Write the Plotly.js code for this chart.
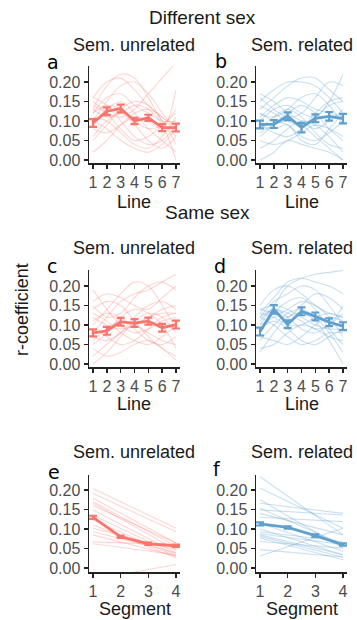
<!DOCTYPE html>
<html>
<head>
<meta charset="utf-8">
<script src="https://cdn.plot.ly/plotly-3.0.1.min.js"></script>
<style>html,body{margin:0;padding:0;background:#fff;}#chart{width:357px;height:620px;}</style>
</head>
<body>
<div id="chart"></div>
<script>
// ---------- data ----------
const lineX = [1, 2, 3, 4, 5, 6, 7];
const segX = [1, 2, 3, 4];
const segEnds = [1, 4];

// Panel a: different sex, semantically unrelated (mean +/- se)
const meanA = [0.095, 0.125, 0.132, 0.100, 0.108, 0.083, 0.083];
const seA   = [0.010, 0.010, 0.010, 0.008, 0.008, 0.009, 0.010];
const indivA = [
  [0.14,0.12,0.11,0.13,0.17,0.21,0.25],
  [0.13,0.19,0.22,0.21,0.16,0.10,0.06],
  [0.16,0.20,0.21,0.18,0.14,0.11,0.09],
  [0.10,0.15,0.19,0.20,0.17,0.12,0.08],
  [0.12,0.14,0.13,0.10,0.08,0.09,0.13],
  [0.05,0.09,0.13,0.15,0.14,0.10,0.04],
  [0.02,0.05,0.09,0.12,0.13,0.11,0.07],
  [0.15,0.12,0.08,0.05,0.06,0.09,0.12],
  [0.09,0.13,0.15,0.12,0.08,0.05,0.02],
  [0.13,0.11,0.12,0.14,0.13,0.09,0.00],
  [0.11,0.10,0.07,0.04,0.03,0.06,0.11],
  [0.08,0.07,0.09,0.11,0.10,0.08,0.18],
  [0.16,0.14,0.10,0.06,0.04,0.05,0.09],
  [0.06,0.10,0.12,0.09,0.05,0.03,0.06],
  [0.12,0.16,0.17,0.14,0.12,0.10,0.10],
  [0.10,0.08,0.05,0.03,0.02,0.04,0.08]
];

// Panel b: different sex, semantically related
const meanB = [0.091, 0.092, 0.112, 0.083, 0.107, 0.112, 0.106];
const seB   = [0.010, 0.010, 0.010, 0.012, 0.010, 0.011, 0.012];
const indivB = [
  [0.17,0.15,0.12,0.10,0.08,0.10,0.13],
  [0.15,0.18,0.20,0.20,0.19,0.16,0.12],
  [0.13,0.16,0.19,0.21,0.21,0.18,0.15],
  [0.10,0.13,0.14,0.12,0.11,0.15,0.22],
  [0.09,0.07,0.06,0.08,0.12,0.15,0.16],
  [0.06,0.09,0.12,0.14,0.12,0.08,0.05],
  [0.03,0.05,0.08,0.10,0.09,0.06,0.02],
  [0.12,0.10,0.09,0.06,0.05,0.07,0.10],
  [0.08,0.11,0.13,0.11,0.07,0.04,0.03],
  [0.14,0.12,0.10,0.09,0.11,0.14,0.15],
  [0.05,0.04,0.05,0.07,0.09,0.08,0.06],
  [0.11,0.14,0.16,0.15,0.13,0.12,0.11],
  [0.00,0.02,0.05,0.04,0.03,0.02,0.00],
  [0.07,0.09,0.10,0.09,0.06,0.03,0.00],
  [0.16,0.13,0.11,0.12,0.16,0.20,0.19],
  [0.09,0.08,0.09,0.05,0.04,0.08,0.12],
  [0.12,0.11,0.13,0.16,0.17,0.14,0.09]
];

// Panel c: same sex, semantically unrelated
const meanC = [0.080, 0.085, 0.108, 0.105, 0.110, 0.093, 0.101];
const seC   = [0.009, 0.010, 0.010, 0.010, 0.009, 0.010, 0.010];
const indivC = [
  [0.19,0.14,0.10,0.08,0.09,0.11,0.12],
  [0.10,0.14,0.18,0.21,0.20,0.15,0.09],
  [0.08,0.12,0.16,0.18,0.19,0.21,0.23],
  [0.15,0.12,0.13,0.17,0.20,0.21,0.19],
  [0.05,0.08,0.12,0.14,0.13,0.10,0.04],
  [0.12,0.10,0.09,0.10,0.12,0.14,0.15],
  [0.02,0.05,0.08,0.10,0.12,0.13,0.13],
  [0.11,0.13,0.12,0.09,0.06,0.05,0.07],
  [0.09,0.07,0.05,0.06,0.09,0.12,0.13],
  [0.14,0.16,0.15,0.11,0.07,0.04,0.02],
  [0.00,0.03,0.07,0.11,0.13,0.12,0.08],
  [0.07,0.06,0.08,0.12,0.15,0.16,0.14],
  [0.13,0.11,0.08,0.06,0.05,0.07,0.10],
  [0.06,0.09,0.11,0.10,0.08,0.06,0.05],
  [0.16,0.18,0.17,0.15,0.14,0.17,0.20],
  [0.04,0.02,0.03,0.05,0.06,0.04,0.01]
];

// Panel d: same sex, semantically related
const meanD = [0.083, 0.140, 0.102, 0.135, 0.122, 0.107, 0.097];
const seD   = [0.010, 0.011, 0.010, 0.010, 0.010, 0.010, 0.010];
const indivD = [
  [0.10,0.15,0.20,0.22,0.23,0.235,0.24],
  [0.13,0.17,0.21,0.22,0.21,0.20,0.18],
  [0.15,0.19,0.20,0.18,0.15,0.13,0.12],
  [0.12,0.16,0.18,0.20,0.19,0.15,0.10],
  [0.14,0.13,0.12,0.15,0.18,0.17,0.14],
  [0.08,0.13,0.16,0.17,0.14,0.09,0.05],
  [0.06,0.10,0.13,0.14,0.12,0.08,0.03],
  [0.13,0.12,0.10,0.10,0.12,0.13,0.12],
  [0.11,0.14,0.12,0.09,0.08,0.10,0.13],
  [0.03,0.08,0.12,0.13,0.11,0.06,0.00],
  [0.09,0.11,0.09,0.06,0.05,0.07,0.09],
  [0.12,0.10,0.07,0.05,0.06,0.08,0.08],
  [0.14,0.15,0.14,0.12,0.10,0.09,0.09],
  [0.07,0.06,0.05,0.07,0.10,0.12,0.11],
  [0.10,0.12,0.14,0.16,0.15,0.12,0.07],
  [0.04,0.05,0.08,0.10,0.09,0.07,0.06],
  [0.12,0.14,0.13,0.11,0.09,0.10,0.15]
];

// Panel e: segments, semantically unrelated (fits at segment 1 and 4)
const meanE = [0.130, 0.080, 0.062, 0.057];
const seE   = [0.004, 0.003, 0.003, 0.003];
const indivE = [
  [0.204,0.102],[0.191,0.093],[0.179,0.064],[0.170,0.056],[0.166,0.047],
  [0.149,0.039],[0.135,0.034],[0.123,0.030],[0.110,0.026],[0.102,0.047],
  [0.093,0.039],[0.085,0.030],[0.067,0.060],[0.062,0.034],[0.160,0.064],
  [-0.030,0.009]
];

// Panel f: segments, semantically related
const meanF = [0.113, 0.104, 0.083, 0.060];
const seF   = [0.004, 0.003, 0.003, 0.003];
const indivF = [
  [0.234,0.085],[0.205,0.102],[0.175,0.051],[0.166,0.140],[0.153,0.060],
  [0.149,0.136],[0.130,0.119],[0.115,0.043],[0.093,0.068],[0.085,0.034],
  [0.081,0.028],[0.077,0.021],[0.068,0.051],[0.047,0.028],[0.031,0.102],
  [0.100,0.034],[0.140,0.085],[0.088,0.060]
];

const yTicks = [0, 0.05, 0.10, 0.15, 0.20];
const yTickText = ["0.00", "0.05", "0.10", "0.15", "0.20"];

// ---------- styling ----------
const RED = "#F8766D", RED_T = "rgba(248,118,109,0.3)";
const BLUE = "#61A0CD", BLUE_T = "rgba(107,170,214,0.36)";
const W = 357, H = 620;

const traces = [];
function addPanel(idx, xs, indiv, indivX, mean, se, col, colT, smooth) {
  const xa = idx === 1 ? "x" : "x" + idx;
  const ya = idx === 1 ? "y" : "y" + idx;
  indiv.forEach(s => {
    traces.push({
      x: indivX, y: s, xaxis: xa, yaxis: ya, type: "scatter", mode: "lines",
      line: {color: colT, width: 1.1, shape: smooth ? "spline" : "linear", smoothing: 1},
      hoverinfo: "skip", showlegend: false
    });
  });
  traces.push({
    x: xs, y: mean, xaxis: xa, yaxis: ya, type: "scatter", mode: "lines",
    line: {color: col, width: 2.8},
    error_y: {type: "data", array: se, visible: true, color: col, thickness: 2.2, width: 4},
    showlegend: false
  });
}
addPanel(1, lineX, indivA, lineX, meanA, seA, RED, RED_T, true);
addPanel(2, lineX, indivB, lineX, meanB, seB, BLUE, BLUE_T, true);
addPanel(3, lineX, indivC, lineX, meanC, seC, RED, RED_T, true);
addPanel(4, lineX, indivD, lineX, meanD, seD, BLUE, BLUE_T, true);
addPanel(5, segX, indivE, segEnds, meanE, seE, RED, RED_T, false);
addPanel(6, segX, indivF, segEnds, meanF, seF, BLUE, BLUE_T, false);

// panel rectangles in pixels: [left, right, top, bottom]
const cols = [[89, 180], [256, 347]];
const rows = [[66, 163], [270, 367], [475, 572]];
const tickFont = {family: "Liberation Sans, Arial, sans-serif", size: 16, color: "#4D4D4D"};

const layout = {
  width: W, height: H, margin: {l: 0, r: 0, t: 0, b: 0},
  paper_bgcolor: "#fff", plot_bgcolor: "#fff", showlegend: false,
  annotations: []
};
for (let i = 0; i < 6; i++) {
  const r = Math.floor(i / 2), c = i % 2;
  const n = i + 1;
  const xk = n === 1 ? "xaxis" : "xaxis" + n;
  const yk = n === 1 ? "yaxis" : "yaxis" + n;
  const isSeg = r === 2;
  layout[xk] = {
    domain: [cols[c][0] / W, cols[c][1] / W],
    range: isSeg ? [0.855, 4.145] : [0.71, 7.29],
    tickvals: isSeg ? segX : lineX,
    ticktext: (isSeg ? segX : lineX).map(String),
    anchor: n === 1 ? "y" : "y" + n,
    showline: true, linecolor: "#222", linewidth: 1.5,
    ticks: "outside", ticklen: 4, tickwidth: 1.4, tickcolor: "#222",
    showgrid: false, zeroline: false, tickfont: tickFont, fixedrange: true
  };
  layout[yk] = {
    domain: [1 - rows[r][1] / H, 1 - rows[r][0] / H],
    range: isSeg ? [-0.0103, 0.2385] : [-0.0077, 0.241],
    tickvals: yTicks, ticktext: yTickText,
    anchor: n === 1 ? "x" : "x" + n,
    showline: true, linecolor: "#222", linewidth: 1.5,
    ticks: "outside", ticklen: 4, tickwidth: 1.4, tickcolor: "#222",
    showgrid: false, zeroline: false, tickfont: tickFont, fixedrange: true
  };
}

function ann(text, px, py, size, extra) {
  layout.annotations.push(Object.assign({
    text: text, x: px / W, y: 1 - py / H, xref: "paper", yref: "paper",
    xanchor: "center", yanchor: "middle", showarrow: false,
    font: {family: "Liberation Sans, Arial, sans-serif", size: size, color: "#1a1a1a"}
  }, extra || {}));
}
ann("Different sex", 202, 17, 19);
ann("Same sex", 207, 213, 19);
const facetY = [45, 248, 452];
facetY.forEach(y => { ann("Sem. unrelated", 134, y, 18); ann("Sem. related", 302, y, 18); });
ann("Line", 134, 202, 18); ann("Line", 302, 202, 18);
ann("Line", 134, 404, 18); ann("Line", 302, 404, 18);
ann("Segment", 135, 609, 18); ann("Segment", 302, 609, 18);
ann("r-coefficient", 22, 310, 18, {textangle: -90});
const letterFont = {family: "DejaVu Sans, sans-serif", size: 19, color: "#000"};
[["a", 53, 62], ["b", 221, 61], ["c", 52, 266], ["d", 220, 266], ["e", 54, 472], ["f", 217, 469]]
  .forEach(l => ann(l[0], l[1], l[2], 19, {font: letterFont}));

Plotly.newPlot("chart", traces, layout, {displayModeBar: false, staticPlot: true});
</script>
</body>
</html>
